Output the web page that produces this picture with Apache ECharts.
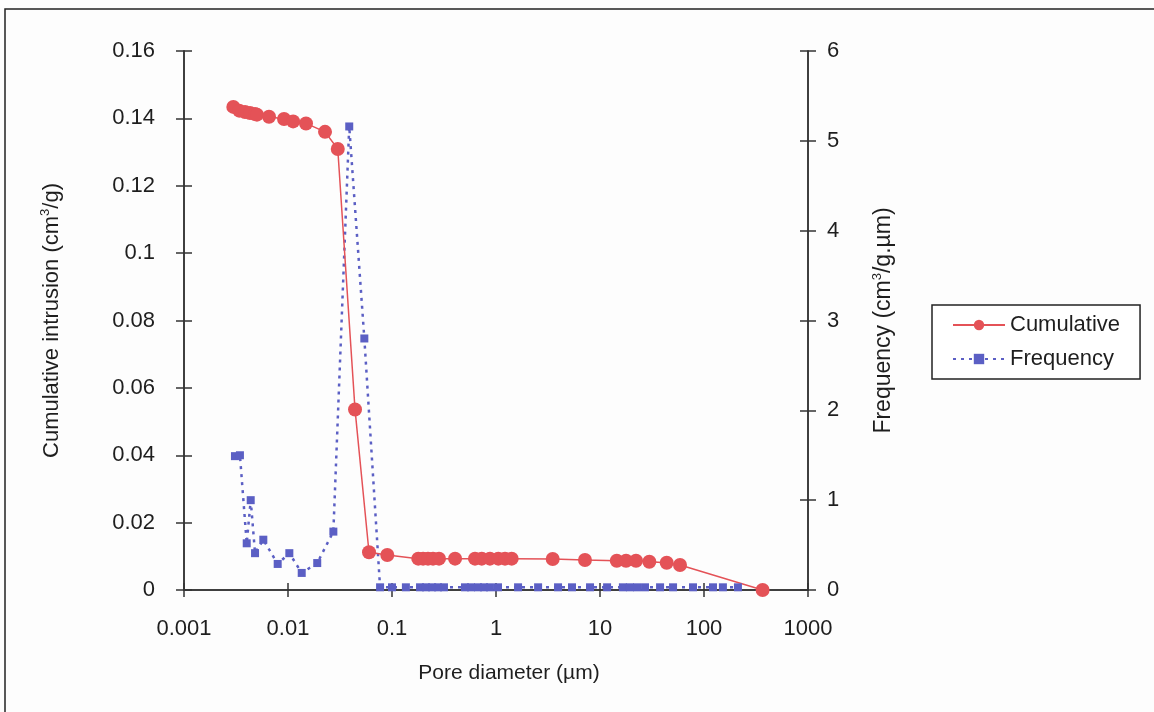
<!DOCTYPE html>
<html><head><meta charset="utf-8">
<script src="https://cdn.jsdelivr.net/npm/echarts@6/dist/echarts.min.js"></script>
<style>html,body{margin:0;padding:0;background:#fdfdfd}#c{width:1154px;height:712px}</style>
</head><body><div id="c"></div>
<script>
// Cumulative intrusion (cm3/g) vs pore diameter (µm)
const cumX = [0.00298,0.0034,0.00386,0.00431,0.00482,0.00503,0.00657,0.00916,0.0112,0.0149,0.0227,0.0301,0.0441,0.0601,0.0901,0.179,0.199,0.222,0.248,0.283,0.404,0.628,0.729,0.875,1.052,1.221,1.415,3.51,7.17,14.5,17.8,22.2,29.8,43.8,58.8,366];
const cumY = [0.1434,0.1423,0.1419,0.1416,0.1413,0.1411,0.1405,0.1398,0.1391,0.1385,0.1360,0.1309,0.0536,0.0112,0.0104,0.0093,0.0093,0.0093,0.0093,0.0093,0.0093,0.0093,0.0093,0.0093,0.0093,0.0093,0.0093,0.0092,0.0089,0.0087,0.0087,0.0087,0.0084,0.0081,0.0074,0];
// Frequency (cm3/g.µm) vs pore diameter (µm)
const freqX = [0.00309,0.00345,0.00401,0.00438,0.00482,0.00579,0.00796,0.0103,0.01355,0.0191,0.0273,0.0388,0.0542,0.0768,0.1,0.136,0.186,0.212,0.243,0.277,0.316,0.503,0.575,0.671,0.767,0.875,1.045,1.63,2.54,3.95,5.38,8.02,11.7,16.6,19.4,22.7,27.1,37.8,50.4,78.4,122,152,212];
const freqY = [1.49,1.50,0.52,1.00,0.41,0.56,0.29,0.41,0.19,0.30,0.65,5.16,2.80,0.03,0.03,0.03,0.03,0.03,0.03,0.03,0.03,0.03,0.03,0.03,0.03,0.03,0.03,0.03,0.03,0.03,0.03,0.03,0.03,0.03,0.03,0.03,0.03,0.03,0.03,0.03,0.03,0.03,0.03];
const xTicks = {0.001:'0.001',0.01:'0.01',0.1:'0.1',1:'1',10:'10',100:'100',1000:'1000'};

const FONT = 'Liberation Sans';
const AX = '#333';
const TXT = '#1e1e1e';
const lbl = {fontFamily:FONT,fontSize:22,color:TXT};
const supRich = {sup:{fontFamily:FONT,fontSize:13,color:TXT,verticalAlign:'top',padding:[0,0,12,0]}};
const chart = echarts.init(document.getElementById('c'));
const baseX = {type:'log',logBase:10,min:0.001,max:1000,gridIndex:0,position:'bottom',
  axisLine:{show:true,onZero:false,lineStyle:{color:AX,width:1.5}},
  splitLine:{show:false},minorTick:{show:false}};
const baseYL = {type:'value',min:0,max:0.16,interval:0.02,position:'left',
  axisLine:{show:true,lineStyle:{color:AX,width:1.5}},splitLine:{show:false}};
const baseYR = {type:'value',min:0,max:6,interval:1,position:'right',
  axisLine:{show:true,lineStyle:{color:AX,width:1.5}},splitLine:{show:false}};
chart.setOption({
  animation:false,
  backgroundColor:'#fdfdfd',
  textStyle:{fontFamily:FONT},
  graphic:[{type:'rect',shape:{x:5,y:9,width:1160,height:720},style:{fill:'none',stroke:'#222',lineWidth:1.5},silent:true}],
  grid:{left:184,right:346,top:51,bottom:122},
  xAxis:[
    Object.assign({},baseX,{
      axisTick:{show:true,length:7,lineStyle:{color:AX,width:1.5}},
      axisLabel:Object.assign({},lbl,{margin:28,formatter:v=>xTicks[v]!==undefined?xTicks[v]:String(v)}),
      name:'Pore diameter (µm)',nameLocation:'middle',nameGap:73,
      nameTextStyle:{fontFamily:FONT,fontSize:21,color:TXT,padding:[0,0,0,26]}}),
    Object.assign({},baseX,{
      axisTick:{show:true,inside:true,length:7,lineStyle:{color:AX,width:1.5}},
      axisLabel:{show:false}})
  ],
  yAxis:[
    Object.assign({},baseYL,{
      axisTick:{show:true,length:8,lineStyle:{color:AX,width:1.5}},
      axisLabel:Object.assign({},lbl,{margin:29}),
      name:'Cumulative intrusion (cm{sup|3}/g)',nameLocation:'middle',nameGap:120,
      nameTextStyle:{fontFamily:FONT,fontSize:22,color:TXT,rich:supRich}}),
    Object.assign({},baseYR,{
      axisTick:{show:true,length:8,lineStyle:{color:AX,width:1.5}},
      axisLabel:Object.assign({},lbl,{margin:19}),
      name:'Frequency (cm{sup|3}/g.µm)',nameLocation:'middle',nameGap:63,
      nameTextStyle:{fontFamily:FONT,fontSize:23,color:TXT,rich:supRich}}),
    Object.assign({},baseYL,{
      axisTick:{show:true,inside:true,length:8,lineStyle:{color:AX,width:1.5}},axisLabel:{show:false}}),
    Object.assign({},baseYR,{
      axisTick:{show:true,inside:true,length:8,lineStyle:{color:AX,width:1.5}},axisLabel:{show:false}})
  ],
  legend:{
    orient:'vertical',left:932,top:305,
    backgroundColor:'#fff',borderColor:'#222',borderWidth:1.5,
    padding:[9,20,9,20],itemGap:12,itemWidth:52,itemHeight:13,
    textStyle:{fontFamily:FONT,fontSize:22,color:TXT},
    data:['Cumulative','Frequency']
  },
  series:[
    {name:'Frequency',type:'line',xAxisIndex:0,yAxisIndex:1,
     data:freqX.map((x,i)=>[x,freqY[i]]),
     symbol:'rect',symbolSize:8,
     itemStyle:{color:'#5b5fc4'},
     lineStyle:{color:'#5b5fc4',width:2.5,type:[3,5]}},
    {name:'Cumulative',type:'line',xAxisIndex:0,yAxisIndex:0,
     data:cumX.map((x,i)=>[x,cumY[i]]),
     symbol:'circle',symbolSize:14,
     itemStyle:{color:'#e45257'},
     lineStyle:{color:'#e45257',width:1.5}}
  ]
});
</script></body></html>
